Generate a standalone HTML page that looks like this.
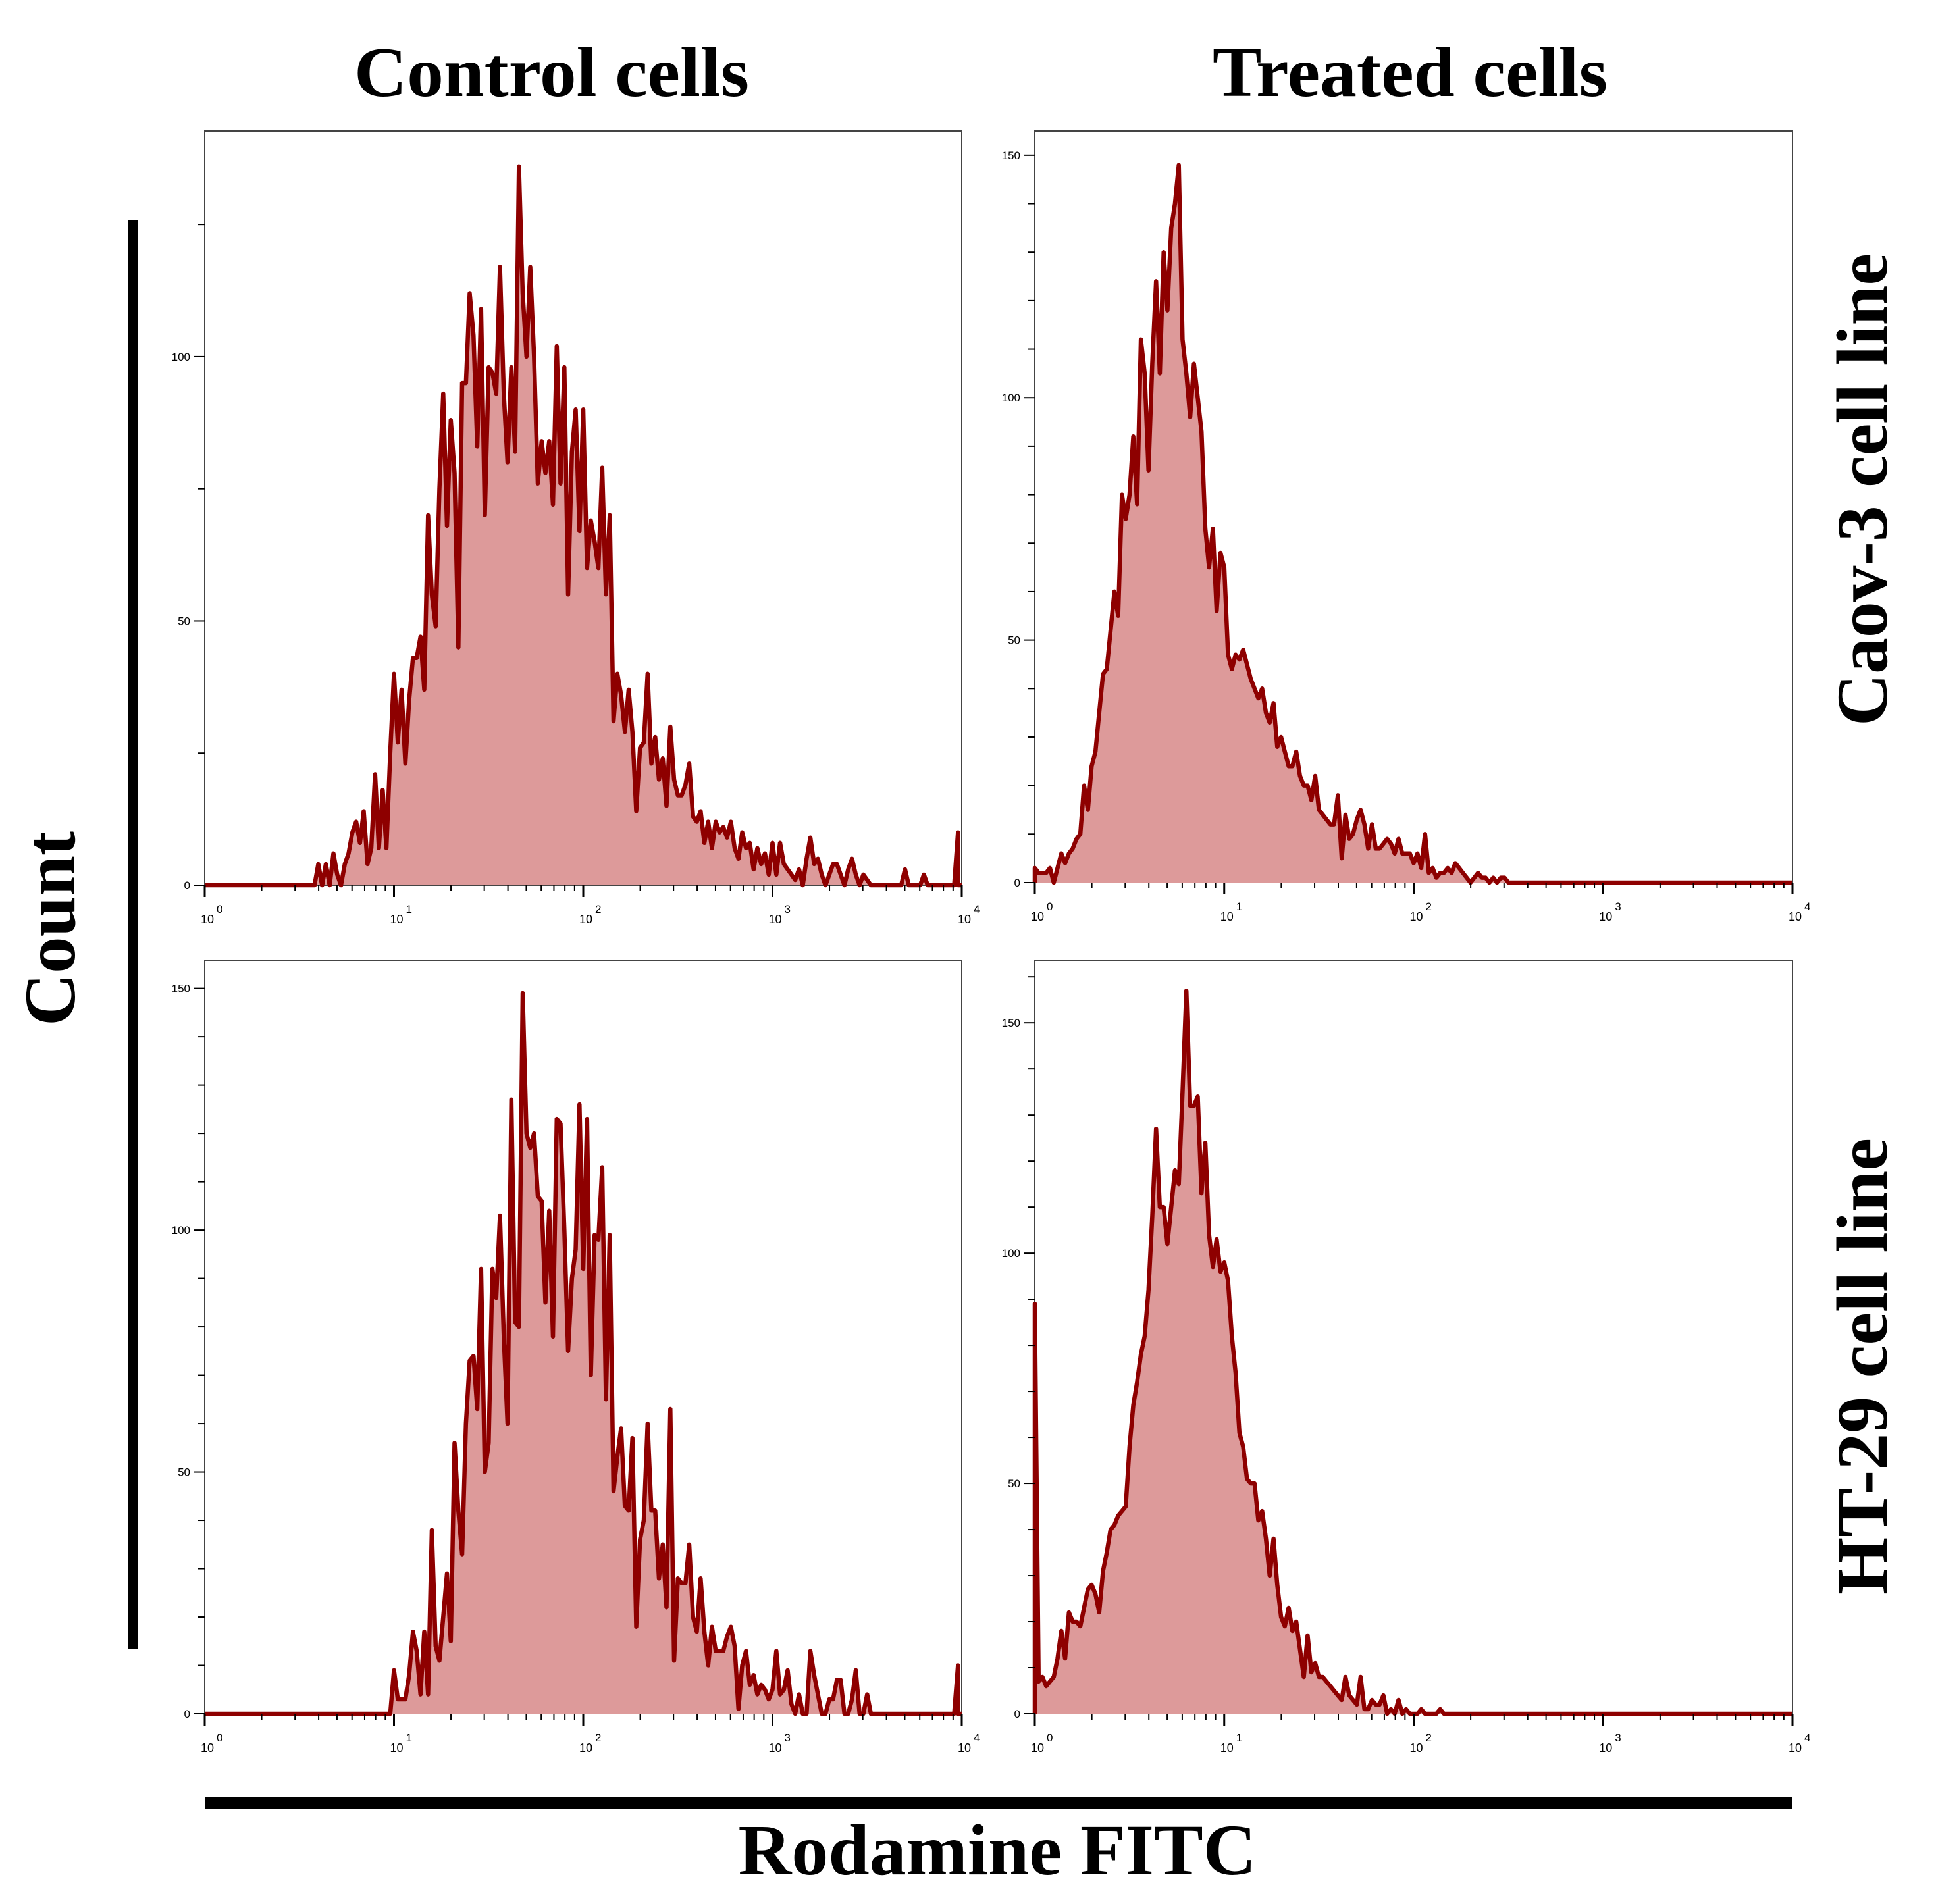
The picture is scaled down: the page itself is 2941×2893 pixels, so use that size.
<!DOCTYPE html>
<html><head><meta charset="utf-8"><style>
html,body{margin:0;padding:0;background:#fff;}
svg{display:block;}
</style></head><body>
<svg id="fig" xmlns="http://www.w3.org/2000/svg" width="2941" height="2893" viewBox="0 0 2941 2893">
<rect x="0" y="0" width="2941" height="2893" fill="#fff"/>
<text x="838" y="146" text-anchor="middle" font-family="Liberation Serif, serif" font-weight="bold" font-size="108" textLength="600" lengthAdjust="spacingAndGlyphs">Control cells</text>
<text x="2142" y="146" text-anchor="middle" font-family="Liberation Serif, serif" font-weight="bold" font-size="108" textLength="600" lengthAdjust="spacingAndGlyphs">Treated cells</text>
<text transform="translate(113,1411) rotate(-90)" text-anchor="middle" font-family="Liberation Serif, serif" font-weight="bold" font-size="110" textLength="296" lengthAdjust="spacingAndGlyphs">Count</text>
<rect x="194" y="334" width="16" height="2172" fill="#000"/>
<rect x="311" y="2731" width="2412" height="17" fill="#000"/>
<text x="1515" y="2848" text-anchor="middle" font-family="Liberation Serif, serif" font-weight="bold" font-size="110" textLength="787" lengthAdjust="spacingAndGlyphs">Rodamine FITC</text>
<text transform="translate(2866,744) rotate(-90)" text-anchor="middle" font-family="Liberation Serif, serif" font-weight="bold" font-size="110" textLength="718" lengthAdjust="spacingAndGlyphs">Caov-3 cell line</text>
<text transform="translate(2866,2076) rotate(-90)" text-anchor="middle" font-family="Liberation Serif, serif" font-weight="bold" font-size="110" textLength="694" lengthAdjust="spacingAndGlyphs">HT-29 cell line</text>
<g id="panels"></g>
</svg>
<script>
// ---- data: counts per log-channel bin (bin width 0.02 decade) ----
const binStep = 0.02;
const decades = [0, 1, 2, 3, 4];
const startCaovControl = 0.58;
const countsCaovControl = [0,4,0,4,0,6,2,0,4,6,
 10,12,8,14,4,7,21,7,18,7,
 25,40,27,37,23,35,43,43,47,37,
 70,55,49,75,93,68,88,78,45,95,
 95,112,104,83,109,70,98,97,93,117,
 93,80,98,82,136,112,100,117,100,76,
 84,78,84,72,102,76,98,55,82,90,
 67,90,60,69,65,60,79,55,70,31,
 40,36,29,37,29,14,26,27,40,23,
 28,20,24,15,30,20,17,17,19,23,
 13,12,14,8,12,7,12,10,11,9,
 12,7,5,10,7,8,3,7,4,6,
 2,8,2,8,4,3,2,1,3,0,
 5,9,4,5,2,0,2,4,4,2,
 0,3,5,2,0,2,1,0,0,0,
 0,0,0,0,0,0,3,0,0,0,
 0,2,0,0,0,0,0,0,0,0,
 10];
const startCaovTreated = 0;
const countsCaovTreated = [3,2,2,2,3,0,3,6,4,6,
 7,9,10,20,15,24,27,35,43,44,
 52,60,55,80,75,80,92,78,112,105,
 85,107,124,105,130,118,135,140,148,112,
 105,96,107,100,93,73,65,73,56,68,
 65,47,44,47,46,48,45,42,40,38,
 40,35,33,37,28,30,27,24,24,27,
 22,20,20,17,22,15,14,13,12,12,
 18,5,14,9,10,13,15,12,7,12,
 7,7,8,9,8,6,9,6,6,6,
 4,6,3,10,2,3,1,2,2,3,
 2,4,3,2,1,0,1,2,1,1,
 0,1,0,1,1,0,0,0,0,0];
const startHtControl = 0.96;
const countsHtControl = [0,0,9,3,3,3,8,17,13,4,
 17,4,38,14,11,20,29,15,56,42,
 33,60,73,74,63,92,50,56,92,86,
 103,78,60,127,81,80,149,120,117,120,
 107,106,85,104,78,123,122,100,75,90,
 96,126,92,123,70,99,98,113,65,99,
 46,53,59,43,42,57,18,36,40,60,
 42,42,28,35,22,63,11,28,27,27,
 35,20,17,28,17,10,18,13,13,13,
 16,18,14,1,10,13,6,8,4,6,
 5,3,5,13,4,5,9,2,0,4,
 0,0,13,8,4,0,0,3,3,7,
 7,0,0,3,9,0,0,4,0,0,
 0,0,0,0,0,0,0,0,0,0,
 0,0,0,0,0,0,0,0,0,0,
 0,10];
const startHtTreated = 0;
const countsHtTreated = [89,7,8,6,7,8,12,18,12,22,
 20,20,19,23,27,28,26,22,31,35,
 40,41,43,44,45,58,67,72,78,82,
 92,108,127,110,110,102,110,118,115,135,
 157,132,132,134,113,124,104,97,103,96,
 98,94,82,74,61,58,51,50,50,42,
 44,38,30,38,28,21,19,23,18,20,
 14,8,17,9,11,8,8,7,6,5,
 4,3,8,4,3,2,8,1,1,3,
 2,2,4,0,1,0,3,0,1,0,
 0,0,1,0,0,0,0,1,0,0];
const yLabelsCaovControl = [0, 50, 100];
const yLabelsOther = [0, 50, 100, 150];

const NS = "http://www.w3.org/2000/svg";
const root = document.getElementById('panels');
function mk(tag, attrs, parent){
  const e = document.createElementNS(NS, tag);
  for (const k in attrs) e.setAttribute(k, attrs[k]);
  parent.appendChild(e);
  return e;
}
const layout = [
  {name:'caov3-control', x:311, y:199, w:1150, h:1146, ymax:142.7, minorStep:25, labels:yLabelsCaovControl, start:startCaovControl, counts:countsCaovControl},
  {name:'caov3-treated', x:1572, y:199, w:1151, h:1142, ymax:155, minorStep:10, labels:yLabelsOther, start:startCaovTreated, counts:countsCaovTreated},
  {name:'ht29-control', x:311, y:1459, w:1150, h:1145, ymax:155.8, minorStep:10, labels:yLabelsOther, start:startHtControl, counts:countsHtControl},
  {name:'ht29-treated', x:1572, y:1459, w:1151, h:1145, ymax:163.6, minorStep:10, labels:yLabelsOther, start:startHtTreated, counts:countsHtTreated}
];
layout.forEach(p => {
  const g = mk('g', {}, root);
  
  
  const bottom = p.y + p.h;
  const xs = lg => p.x + lg * p.w / 4;
  const ys = v => bottom - v * p.h / p.ymax;
  const frame = mk('rect', {x:p.x, y:p.y, width:p.w, height:p.h, fill:'#fff', stroke:'#444', 'stroke-width':2}, g);
  
  
  let pts = [[xs(0), ys(0)], [xs(p.start), ys(0)]];
  p.counts.forEach((c, i) => { const lg = p.start + i * binStep; if (lg <= 4.0001) pts.push([xs(lg), ys(c)]); });
  const lastLg = Math.min(4, p.start + (p.counts.length - 1) * binStep);
  pts.push([xs(lastLg), ys(0)]); pts.push([xs(4), ys(0)]);
  const d = pts.map((q, i) => (i ? 'L' : 'M') + q[0].toFixed(1) + ',' + q[1].toFixed(1)).join(' ');
  const fill = mk('path', {d: d + ' Z', fill:'#dd9a9a', stroke:'none'}, g);
  
  
  const line = mk('path', {d: d, fill:'none', stroke:'#8e0000', 'stroke-width':6.5, 'stroke-linejoin':'round'}, g);
  
  
  for (let v = 0; v <= p.ymax; v += p.minorStep) {
    const major = p.labels.indexOf(v) >= 0;
    const t = mk('line', {x1:p.x - (major ? 16 : 10), x2:p.x, y1:ys(v), y2:ys(v), stroke:'#000', 'stroke-width':2}, g);
    
    
  }
  p.labels.forEach(v => {
    const t = mk('text', {x:p.x - 22, y:ys(v) + 6, 'text-anchor':'end', 'font-family':'Liberation Sans, sans-serif', 'font-size':17}, g);
    t.textContent = v;
    
    
  });
  decades.forEach(dc => {
    const t = mk('line', {x1:xs(dc), x2:xs(dc), y1:bottom, y2:bottom + 18, stroke:'#000', 'stroke-width':3}, g);
    
    
    if (dc < 4) for (let m = 2; m <= 9; m++) {
      const mt = mk('line', {x1:xs(dc + Math.log10(m)), x2:xs(dc + Math.log10(m)), y1:bottom, y2:bottom + 9, stroke:'#000', 'stroke-width':2}, g);
      
      
    }
    const lb = mk('text', {x:xs(dc) + 4, y:bottom + 58, 'text-anchor':'middle', 'font-family':'Liberation Sans, sans-serif', 'font-size':18}, g);
    lb.textContent = '10';
    
    
    const sp = mk('text', {x:xs(dc) + 18, y:bottom + 42, 'font-family':'Liberation Sans, sans-serif', 'font-size':17}, g);
    sp.textContent = dc;
    
    
  });
});
</script>
</body></html>
